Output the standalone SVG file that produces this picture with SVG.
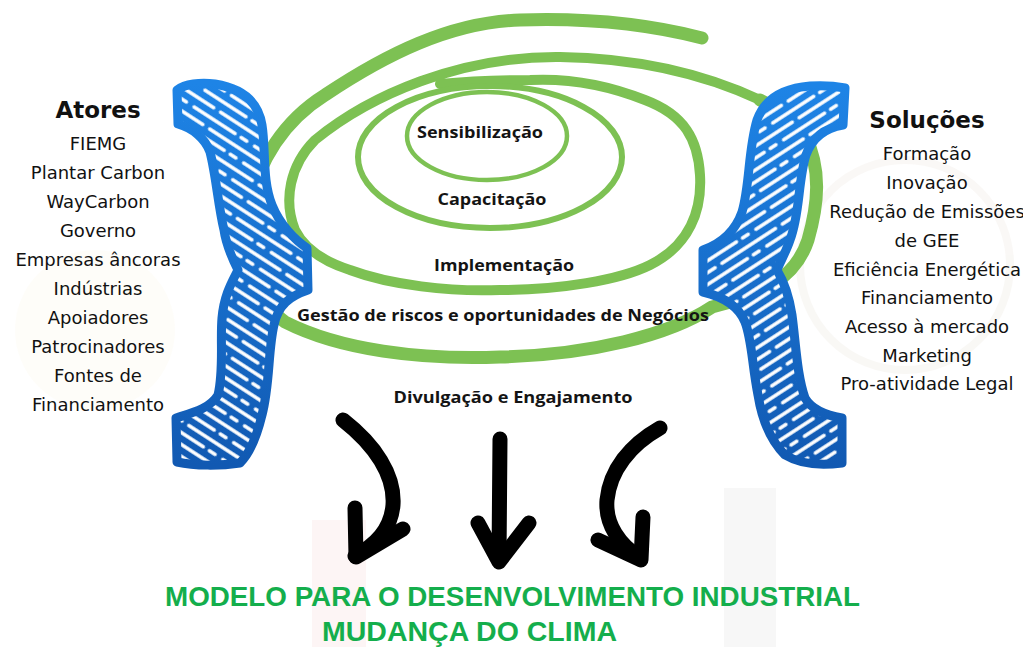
<svg xmlns="http://www.w3.org/2000/svg" width="1023" height="647" viewBox="0 0 1023 647">
  <defs>
    <linearGradient id="blue" x1="0" y1="0" x2="0" y2="1">
      <stop offset="0" stop-color="#1E84E6"/>
      <stop offset="1" stop-color="#1159B2"/>
    </linearGradient>
    <pattern id="hatchL" width="72" height="20" patternUnits="userSpaceOnUse" patternTransform="rotate(33)">
      <path d="M5 4H54M61 4H68M-4 14H22M30 14H76" stroke="#fff" stroke-width="3.4" stroke-linecap="round"/>
    </pattern>
    <pattern id="hatchR" width="72" height="20" patternUnits="userSpaceOnUse" patternTransform="rotate(-33)">
      <path d="M5 4H54M61 4H68M-4 14H22M30 14H76" stroke="#fff" stroke-width="3.4" stroke-linecap="round"/>
    </pattern>
    <path id="braceL" d="M177 90C185 84 200 82 215 84C240 88 258 100 262 125C266 150 262 180 272 205C280 225 295 240 307 248L308 290C290 296 278 305 274 325C268 350 270 385 262 415C256 440 248 455 240 463C220 466 195 466 177 462L176 418C195 412 210 408 218 395C224 370 220 340 222 318C224 295 232 282 238 270C232 258 226 245 224 230C218 205 216 175 210 152C205 138 192 128 178 124Z"/>
    <path id="braceR" d="M845 88L843 125C825 128 812 138 806 155C798 180 800 215 790 240C786 252 780 262 777 270C783 280 789 295 792 315C796 345 797 375 805 398C812 410 825 415 842 418L842 463C820 466 800 464 785 455C770 440 762 420 758 395C752 365 752 340 745 322C738 305 720 296 703 292L703 250C720 244 735 232 742 212C750 185 748 150 757 120C765 98 785 88 810 86C825 85 835 86 845 88Z"/>
  </defs>
  <style>
    .ring { fill: none; stroke: #7DC153; stroke-linecap: round; stroke-linejoin: round; }
    .list { font-family: "DejaVu Sans", "Liberation Sans", sans-serif; font-size: 18px; fill: #111; text-anchor: middle; }
    .head { font-family: "DejaVu Sans", "Liberation Sans", sans-serif; font-size: 23px; font-weight: bold; fill: #111; text-anchor: middle; }
    .stage { font-family: "Open Sans", "Liberation Sans", sans-serif; font-size: 15.5px; font-weight: bold; fill: #141414; text-anchor: middle; }
    .title { font-family: "Liberation Sans", Arial, sans-serif; font-size: 27px; font-weight: bold; fill: #14AE4C; }
    .arrow { fill: none; stroke: #000; stroke-width: 15; stroke-linecap: round; stroke-linejoin: round; }
  </style>

  <rect width="1023" height="647" fill="#fff"/>

  <!-- faint backdrop panels -->
  <g id="backdrop" opacity="0.45">
    <rect x="312" y="520" width="54" height="127" fill="#FBE9E9"/>
    <rect x="724" y="488" width="52" height="159" fill="#EEEEEE"/>
    <circle cx="905" cy="265" r="105" fill="none" stroke="#F3F0EA" stroke-width="8"/>
    <circle cx="95" cy="330" r="80" fill="#FDFAF1"/>
  </g>

  <!-- green spiral -->
  <g id="spiral">
    <path class="ring" stroke-width="13" d="M702 38C640 22 580 18 520 20C450 22 385 55 325 95C285 120 258 160 248 210C238 260 255 300 285 322C340 350 420 360 500 357C590 355 670 335 712 307C760 295 795 280 808 240C818 205 822 170 805 135C790 118 780 110 760 100"/>
    <path class="ring" stroke-width="10" d="M760 100C700 72 630 58 560 57C460 56 370 95 315 140C290 165 283 200 295 230C305 250 325 262 350 270C390 285 450 292 500 290C560 290 620 280 650 265C690 245 702 210 700 175C698 140 685 115 645 100C610 86 570 78 530 80C490 80 460 82 440 84"/>
    <ellipse class="ring" stroke-width="6" cx="490" cy="157" rx="132" ry="71"/>
    <ellipse class="ring" stroke-width="4.5" cx="487" cy="136" rx="80" ry="44"/>
  </g>

  <!-- hatched braces -->
  <g id="brace-left">
    <use href="#braceL" fill="url(#blue)"/>
    <use href="#braceL" fill="url(#hatchL)"/>
    <use href="#braceL" fill="none" stroke="url(#blue)" stroke-width="9" stroke-linejoin="round"/>
  </g>
  <g id="brace-right">
    <use href="#braceR" fill="url(#blue)"/>
    <use href="#braceR" fill="url(#hatchR)"/>
    <use href="#braceR" fill="none" stroke="url(#blue)" stroke-width="9" stroke-linejoin="round"/>
  </g>

  <!-- actors -->
  <g id="atores">
    <text class="head" x="98" y="118">Atores</text>
    <text class="list" x="98" y="150">FIEMG</text>
    <text class="list" x="98" y="179">Plantar Carbon</text>
    <text class="list" x="98" y="208">WayCarbon</text>
    <text class="list" x="98" y="237">Governo</text>
    <text class="list" x="98" y="266">Empresas âncoras</text>
    <text class="list" x="98" y="295">Indústrias</text>
    <text class="list" x="98" y="324">Apoiadores</text>
    <text class="list" x="98" y="353">Patrocinadores</text>
    <text class="list" x="98" y="382">Fontes de</text>
    <text class="list" x="98" y="411">Financiamento</text>
  </g>

  <!-- solutions -->
  <g id="solucoes">
    <text class="head" x="927" y="128">Soluções</text>
    <text class="list" x="927" y="160">Formação</text>
    <text class="list" x="927" y="189">Inovação</text>
    <text class="list" x="927" y="218">Redução de Emissões</text>
    <text class="list" x="927" y="247">de GEE</text>
    <text class="list" x="927" y="276">Eficiência Energética</text>
    <text class="list" x="927" y="304">Financiamento</text>
    <text class="list" x="927" y="333">Acesso à mercado</text>
    <text class="list" x="927" y="362">Marketing</text>
    <text class="list" x="927" y="390">Pro-atividade Legal</text>
  </g>

  <!-- stages of the spiral -->
  <g id="etapas">
    <text class="stage" x="480" y="138" textLength="126" lengthAdjust="spacingAndGlyphs">Sensibilização</text>
    <text class="stage" x="492" y="205" textLength="109" lengthAdjust="spacingAndGlyphs">Capacitação</text>
    <text class="stage" x="504" y="271" textLength="140" lengthAdjust="spacingAndGlyphs">Implementação</text>
    <text class="stage" x="503" y="321" textLength="412" lengthAdjust="spacingAndGlyphs">Gestão de riscos e oportunidades de Negócios</text>
    <text class="stage" x="513" y="403" textLength="239" lengthAdjust="spacingAndGlyphs">Divulgação e Engajamento</text>
  </g>

  <!-- arrows -->
  <g id="connectors">
    <path class="arrow" d="M343 420C375 445 395 475 393 505C391 530 375 545 355 556"/>
    <path class="arrow" d="M355 508L356 557L403 529"/>
    <path class="arrow" d="M500 439L499 558"/>
    <path class="arrow" d="M478 523L499 562L529 523"/>
    <path class="arrow" d="M660 428C630 445 610 470 607 500C605 525 620 545 640 558"/>
    <path class="arrow" d="M643 517L641 560L598 540"/>
  </g>

  <!-- title -->
  <g id="titulo">
    <text class="title" x="165" y="606" textLength="695" lengthAdjust="spacingAndGlyphs">MODELO PARA O DESENVOLVIMENTO INDUSTRIAL</text>
    <text class="title" x="322" y="641" textLength="295" lengthAdjust="spacingAndGlyphs">MUDANÇA DO CLIMA</text>
  </g>
</svg>
